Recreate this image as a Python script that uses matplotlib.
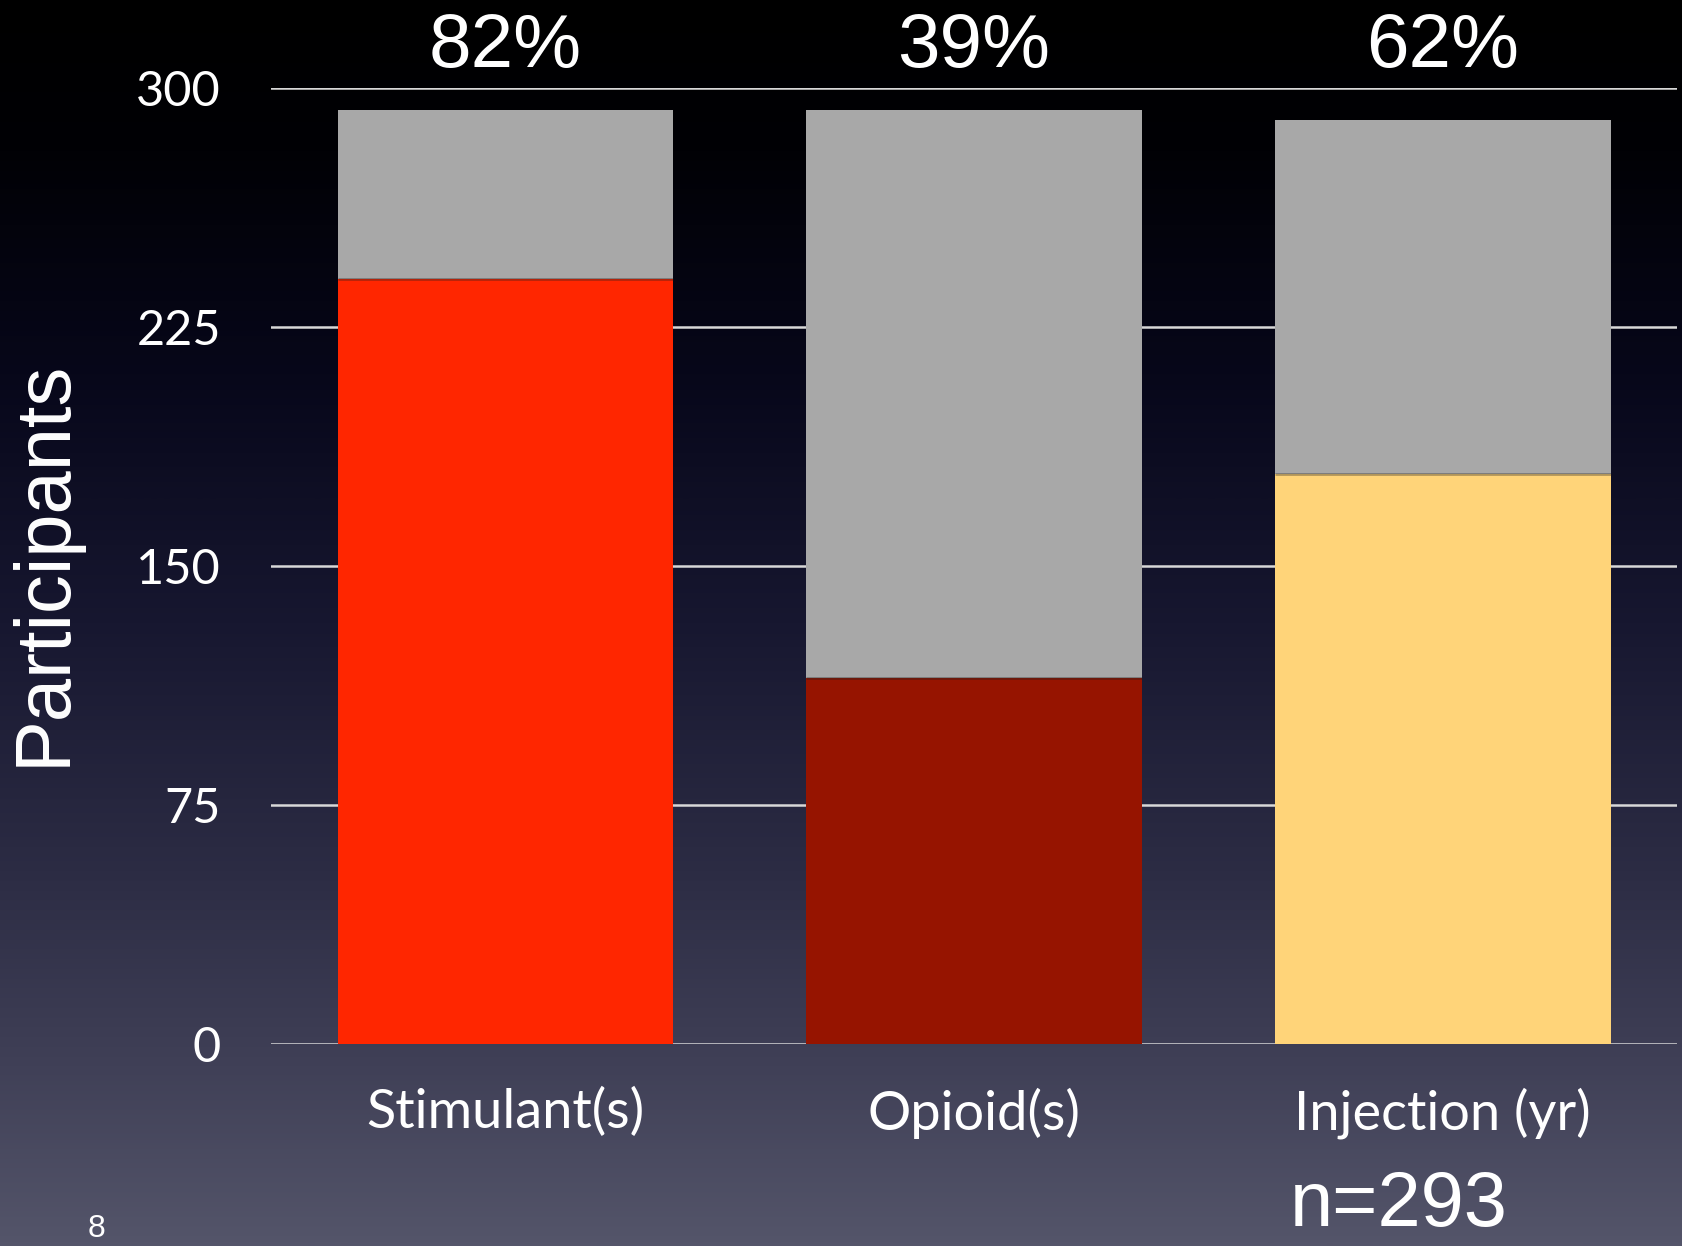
import numpy as np
import matplotlib
matplotlib.use("Agg")
import matplotlib.pyplot as plt
from matplotlib.colors import LinearSegmentedColormap

# Data
categories = ["Stimulant(s)", "Opioid(s)", "Injection (yr)"]
totals = [293, 293, 290]
yes_counts = [240, 115, 179]
percent_labels = ["82%", "39%", "62%"]
yticks = [0, 75, 150, 225, 300]
sample_label = "n=293"
slide_number = "8"

yes_colors = ["#ff2600", "#961400", "#ffd479"]
rest_color = "#a8a8a8"
bar_width = 0.716

fig = plt.figure(figsize=(16.82, 12.46), dpi=100)

# Slide background: vertical gradient from black to slate
bg = fig.add_axes([0, 0, 1, 1], zorder=-10)
bg_cmap = LinearSegmentedColormap.from_list(
    "slide",
    [(0.0, "#000000"), (0.12, "#010105"), (0.30, "#07071a"),
     (0.50, "#171730"), (0.70, "#2c2c44"), (0.85, "#3f3f56"), (1.0, "#54556a")])
grad = np.linspace(0, 1, 512).reshape(-1, 1)
bg.imshow(grad, aspect="auto", cmap=bg_cmap, extent=[0, 1, 1, 0])
bg.set_axis_off()

ax = fig.add_axes([0.1611, 0.1619, 0.836, 0.7677])
ax.patch.set_alpha(0)
x = np.arange(len(categories))
rest = [t - y for t, y in zip(totals, yes_counts)]
ax.bar(x, yes_counts, width=bar_width, color=yes_colors, zorder=3)
ax.bar(x, rest, bottom=yes_counts, width=bar_width, color=rest_color, zorder=3)
# soft shadow where the grey segment meets the coloured one
ax.hlines(yes_counts, x - bar_width / 2, x + bar_width / 2,
          colors="#202020", linewidth=2.0, alpha=0.35, zorder=4)

ax.set_xlim(-0.5, 2.5)
ax.set_ylim(0, 300)
ax.set_yticks(yticks)
ax.set_yticklabels([str(v) for v in yticks])
ax.set_xticks(x)
ax.set_xticklabels(categories)
for s in ax.spines.values():
    s.set_visible(False)
ax.yaxis.grid(True, color="#d8d8d8", linewidth=1.8, zorder=1)
ax.set_axisbelow(True)
ax.tick_params(axis="both", length=0, colors="white")
ax.tick_params(axis="y", pad=36, labelsize=35)
ax.tick_params(axis="x", pad=31, labelsize=39)
for lbl in ax.get_xticklabels() + ax.get_yticklabels():
    lbl.set_family("Lato")

for xi, p in zip(x, percent_labels):
    ax.text(xi, 1.005, p, transform=ax.get_xaxis_transform(), ha="center",
            va="bottom", color="white", fontsize=55, family="Liberation Sans")

fig.text(0.026, 0.548, "Participants", rotation=90, ha="center", va="center",
         color="white", fontsize=56, family="Liberation Sans")
fig.text(0.767, 0.003, sample_label, ha="left", va="bottom",
         color="white", fontsize=56, family="Liberation Sans")
fig.text(0.0575, 0.002, slide_number, ha="center", va="bottom",
         color="white", fontsize=23, family="Liberation Sans")

fig.savefig("out.png", dpi=100)
